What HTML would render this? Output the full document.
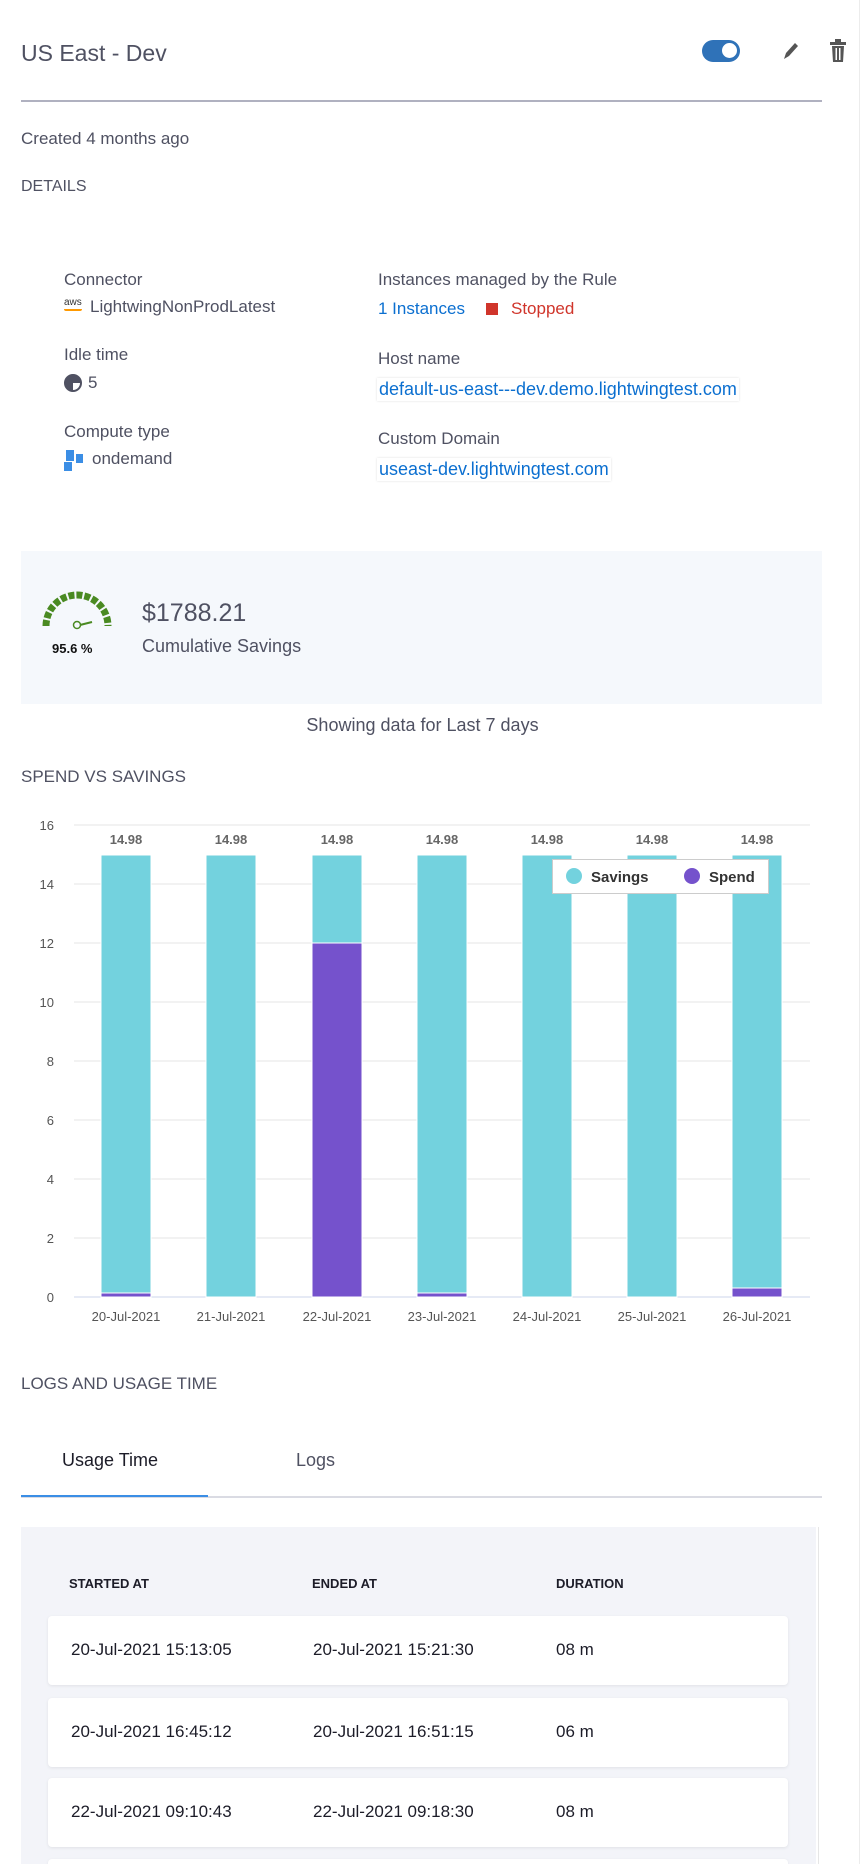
<!DOCTYPE html>
<html><head><meta charset="utf-8"><style>
*{margin:0;padding:0;box-sizing:border-box}
html,body{width:862px;height:1864px;overflow:hidden}
body{background:#fff;font-family:"Liberation Sans",sans-serif;color:#4f5162;position:relative}
.a{position:absolute;white-space:nowrap}
.lbl{font-size:17px;color:#4f5162}
.lnk{font-size:18px;color:#0b6fd0;box-shadow:0 0 2px #ddd;padding:1px 2px}
.row{position:absolute;left:48px;width:740px;height:69px;background:#fff;border-radius:4px;box-shadow:0 1px 3px rgba(0,0,0,.08);font-size:17px;color:#1c1c28}
.row span{position:absolute;top:24px}
</style></head><body>
<div class="a" style="left:21px;top:40px;font-size:23px;color:#4f5162">US East - Dev</div>
<div class="a" style="left:702px;top:40px;width:38px;height:22px;border-radius:11px;background:#2f72b8"></div>
<div class="a" style="left:722px;top:43px;width:15px;height:15px;border-radius:50%;background:#fff"></div>
<svg class="a" style="left:780px;top:40px" width="20" height="22"><path d="M4 19 L6 13 L15 3 L18 6 L9 16 Z" fill="#555"/></svg>
<svg class="a" style="left:828px;top:38px" width="20" height="26"><rect x="2" y="4" width="16" height="3" fill="#555"/><rect x="7" y="1" width="6" height="3" fill="#555"/><path d="M4 8 H16 L15 24 H5 Z" fill="#555"/><rect x="7.5" y="10" width="1.5" height="12" fill="#fff"/><rect x="11" y="10" width="1.5" height="12" fill="#fff"/></svg>
<div class="a" style="left:21px;top:100px;width:801px;height:2px;background:#b0b1c0"></div>
<div class="a lbl" style="left:21px;top:129px">Created 4 months ago</div>
<div class="a" style="left:21px;top:178px;font-size:16px">DETAILS</div>

<div class="a lbl" style="left:64px;top:270px">Connector</div>
<div class="a" style="left:64px;top:297px;font-size:10px;color:#333">aws</div>
<div class="a" style="left:64px;top:309px;width:18px;height:2px;border-bottom:2px solid #f90;border-radius:0 0 8px 8px"></div>
<div class="a lbl" style="left:90px;top:297px">LightwingNonProdLatest</div>
<div class="a lbl" style="left:64px;top:345px">Idle time</div>
<div class="a" style="left:64px;top:374px;width:18px;height:18px;border:2px solid #4f5162;border-radius:50%;background:conic-gradient(#4f5162 0 25%,#fff 25% 50%,#4f5162 50% 100%)"></div>
<div class="a lbl" style="left:88px;top:373px">5</div>
<div class="a lbl" style="left:64px;top:422px">Compute type</div>
<div class="a" style="left:66px;top:450px;width:8px;height:11px;background:#3b8ee5"></div>
<div class="a" style="left:76px;top:454px;width:7px;height:9px;background:#3b8ee5"></div>
<div class="a" style="left:64px;top:462px;width:8px;height:9px;background:#3b8ee5"></div>
<div class="a lbl" style="left:92px;top:449px">ondemand</div>

<div class="a lbl" style="left:378px;top:270px">Instances managed by the Rule</div>
<div class="a lbl" style="left:378px;top:299px;color:#0b6fd0">1 Instances</div>
<div class="a" style="left:486px;top:303px;width:12px;height:12px;background:#d0352b"></div>
<div class="a lbl" style="left:511px;top:299px;color:#d0352b">Stopped</div>
<div class="a lbl" style="left:378px;top:349px">Host name</div>
<div class="a lnk" style="left:377px;top:378px">default-us-east---dev.demo.lightwingtest.com</div>
<div class="a lbl" style="left:378px;top:429px">Custom Domain</div>
<div class="a lnk" style="left:377px;top:458px">useast-dev.lightwingtest.com</div>

<div class="a" style="left:21px;top:551px;width:801px;height:153px;background:#f5f8fc"></div>
<svg class="a" style="left:40px;top:590px" width="74" height="50"><path d="M6 36 A31 31 0 0 1 68 36" fill="none" stroke="#4a8a22" stroke-width="7" stroke-dasharray="6 2"/><circle cx="37" cy="35" r="3.5" fill="none" stroke="#4a8a22" stroke-width="1.5"/><path d="M40 35 L52 32" stroke="#4a8a22" stroke-width="2"/></svg>
<div class="a" style="left:52px;top:641px;font-size:13px;font-weight:bold;color:#111">95.6 %</div>
<div class="a" style="left:142px;top:599px;font-size:25px;color:#4f5162">$1788.21</div>
<div class="a" style="left:142px;top:636px;font-size:18px">Cumulative Savings</div>
<div class="a" style="left:0;width:845px;text-align:center;top:715px;font-size:18px">Showing data for Last 7 days</div>
<div class="a" style="left:21px;top:767px;font-size:17px">SPEND VS SAVINGS</div>

<svg class="a" style="left:0;top:809px" width="862" height="520" font-family="Liberation Sans, sans-serif">
<g stroke="#e6e6e6" stroke-width="1">
<line x1="74" x2="810" y1="16" y2="16"/><line x1="74" x2="810" y1="75" y2="75"/><line x1="74" x2="810" y1="134" y2="134"/><line x1="74" x2="810" y1="193" y2="193"/><line x1="74" x2="810" y1="252" y2="252"/><line x1="74" x2="810" y1="311" y2="311"/><line x1="74" x2="810" y1="370" y2="370"/><line x1="74" x2="810" y1="429" y2="429"/></g>
<line x1="74" x2="810" y1="488" y2="488" stroke="#ccd6eb"/>
<g font-size="13" fill="#555" text-anchor="end">
<text x="54" y="21">16</text><text x="54" y="80">14</text><text x="54" y="139">12</text><text x="54" y="198">10</text><text x="54" y="257">8</text><text x="54" y="316">6</text><text x="54" y="375">4</text><text x="54" y="434">2</text><text x="54" y="493">0</text></g>
<g fill="#73d2de" stroke="#fff" stroke-width="1">
<rect x="101" y="46" width="50" height="442"/><rect x="206" y="46" width="50" height="442"/><rect x="312" y="46" width="50" height="88"/><rect x="417" y="46" width="50" height="442"/><rect x="522" y="46" width="50" height="442"/><rect x="627" y="46" width="50" height="442"/><rect x="732" y="46" width="50" height="442"/></g>
<g fill="#7552cc" stroke="#fff" stroke-width="1">
<rect x="101" y="484" width="50" height="4"/><rect x="312" y="134" width="50" height="354"/><rect x="417" y="484" width="50" height="4"/><rect x="732" y="479" width="50" height="9"/></g>
<g font-size="13" font-weight="bold" fill="#666" text-anchor="middle">
<text x="126" y="35">14.98</text><text x="231" y="35">14.98</text><text x="337" y="35">14.98</text><text x="442" y="35">14.98</text><text x="547" y="35">14.98</text><text x="652" y="35">14.98</text><text x="757" y="35">14.98</text></g>
<rect x="552.5" y="50.5" width="216" height="34" fill="#fff" stroke="#ccc"/>
<circle cx="574" cy="67" r="8" fill="#73d2de"/><text x="591" y="73" font-size="15" font-weight="bold" fill="#333">Savings</text>
<circle cx="692" cy="67" r="8" fill="#7552cc"/><text x="709" y="73" font-size="15" font-weight="bold" fill="#333">Spend</text>
<g font-size="13" fill="#555" text-anchor="middle">
<text x="126" y="512">20-Jul-2021</text><text x="231" y="512">21-Jul-2021</text><text x="337" y="512">22-Jul-2021</text><text x="442" y="512">23-Jul-2021</text><text x="547" y="512">24-Jul-2021</text><text x="652" y="512">25-Jul-2021</text><text x="757" y="512">26-Jul-2021</text></g>
</svg>

<div class="a" style="left:21px;top:1374px;font-size:17px">LOGS AND USAGE TIME</div>
<div class="a" style="left:62px;top:1450px;font-size:18px;color:#1c1c28">Usage Time</div>
<div class="a" style="left:296px;top:1450px;font-size:18px">Logs</div>
<div class="a" style="left:21px;top:1496px;width:801px;height:2px;background:#dadbe3"></div>
<div class="a" style="left:21px;top:1495px;width:187px;height:2px;background:#3b8ee5"></div>
<div class="a" style="left:21px;top:1527px;width:795px;height:337px;background:#f3f4f9"></div>
<div class="a" style="left:818px;top:1527px;width:1px;height:337px;background:#e6e6e6"></div>
<div class="a" style="left:859px;top:0;width:1px;height:1864px;background:#ececec"></div>
<div class="a" style="left:69px;top:1576px;font-size:13px;font-weight:bold;color:#1c1c28">STARTED AT</div>
<div class="a" style="left:312px;top:1576px;font-size:13px;font-weight:bold;color:#1c1c28">ENDED AT</div>
<div class="a" style="left:556px;top:1576px;font-size:13px;font-weight:bold;color:#1c1c28">DURATION</div>
<div class="row" style="top:1616px"><span style="left:23px">20-Jul-2021 15:13:05</span><span style="left:265px">20-Jul-2021 15:21:30</span><span style="left:508px">08 m</span></div>
<div class="row" style="top:1698px"><span style="left:23px">20-Jul-2021 16:45:12</span><span style="left:265px">20-Jul-2021 16:51:15</span><span style="left:508px">06 m</span></div>
<div class="row" style="top:1778px"><span style="left:23px">22-Jul-2021 09:10:43</span><span style="left:265px">22-Jul-2021 09:18:30</span><span style="left:508px">08 m</span></div>
<div class="row" style="top:1859px;height:5px;border-radius:4px 4px 0 0"></div>
</body></html>
